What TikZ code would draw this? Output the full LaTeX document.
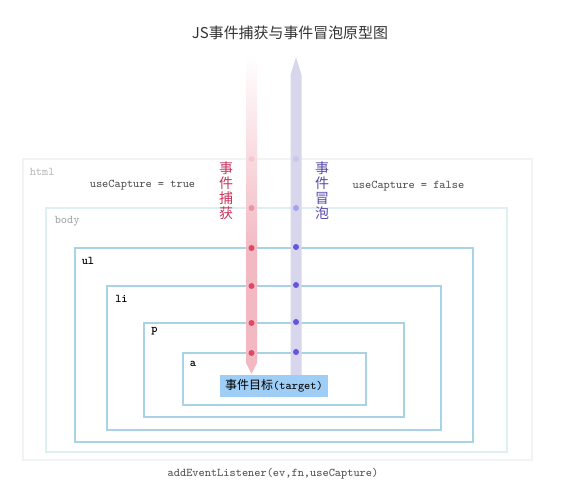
\documentclass[tikz,border=0pt]{standalone}
\usepackage{fontspec}
\newfontfamily\cjk{Noto Sans CJK SC}

\begin{document}
\begin{tikzpicture}[x=0.75pt,y=0.75pt,yscale=-1,xscale=1,
    boxline/.style={line width=1.5pt,color={rgb, 255:red, 169; green, 210; blue, 228 }},
    monotext/.style={font=\ttfamily\fontsize{8.85}{10}\selectfont,color={rgb, 255:red, 80; green, 80; blue, 80 }},
    tagtext/.style={font=\ttfamily\fontsize{8.85}{10}\selectfont,anchor=west,inner sep=0pt}]
                              \path (0,0) rectangle (572,499); %set diagram size 572 x 499

                              %Shape: Rectangle (html)
                              \draw  [line width=1.5pt,color={rgb, 255:red, 240; green, 244; blue, 244 }] (23,159) -- (532,159) -- (532,460) -- (23,460) -- cycle ;
                              %Shape: Rectangle (body)
                              \draw  [line width=1.5pt,color={rgb, 255:red, 222; green, 240; blue, 244 }] (46,208) -- (507,208) -- (507,452) -- (46,452) -- cycle ;
                              %Shape: Rectangle (ul)
                              \draw  [boxline] (75,248) -- (473,248) -- (473,442) -- (75,442) -- cycle ;
                              %Shape: Rectangle (li)
                              \draw  [boxline] (107,286) -- (441,286) -- (441,430) -- (107,430) -- cycle ;
                              %Shape: Rectangle (p)
                              \draw  [boxline] (144,323) -- (404,323) -- (404,417) -- (144,417) -- cycle ;
                              %Shape: Rectangle (a)
                              \draw  [boxline] (183,353) -- (366,353) -- (366,405) -- (183,405) -- cycle ;

                              %Shape: Capture bar
                              \shade [top color=white, bottom color={rgb, 255:red, 243; green, 185; blue, 195 }] (246,55) -- (257,55) -- (257,250) -- (246,250) -- cycle ;
                              \fill  [color={rgb, 255:red, 243; green, 185; blue, 195 }] (246,249.5) -- (257,249.5) -- (257,363) -- (251.5,374) -- (246,363) -- cycle ;
                              %Shape: Bubble bar
                              \fill  [color={rgb, 255:red, 216; green, 214; blue, 236 }] (296,57) -- (301.5,75) -- (301.5,376) -- (290.5,376) -- (290.5,75) -- cycle ;

                              %Shape: Capture dots
                              \fill  [color={rgb, 255:red, 224; green, 72; blue, 100 }, opacity=0.12] (251.5,159) circle [radius=3] ;
                              \fill  [color={rgb, 255:red, 224; green, 72; blue, 100 }, opacity=0.4] (251.5,208) circle [radius=3] ;
                              \foreach \y in {248,286,323,353}
                                 \fill  [color={rgb, 255:red, 224; green, 72; blue, 100 }] (251.5,\y) circle [radius=3] ;
                              %Shape: Bubble dots
                              \fill  [color={rgb, 255:red, 100; green, 84; blue, 224 }, opacity=0.12] (296,159) circle [radius=3] ;
                              \fill  [color={rgb, 255:red, 100; green, 84; blue, 224 }, opacity=0.4] (296,208) circle [radius=3] ;
                              \foreach \y in {247,285,322,352}
                                 \fill  [color={rgb, 255:red, 100; green, 84; blue, 224 }] (296,\y) circle [radius=3] ;

                              % Text Node
                              \draw (290,33) node (title) [font=\cjk\fontsize{11.2}{13}\selectfont, color={rgb, 255:red, 51; green, 51; blue, 51 }] {JS事件捕获与事件冒泡原型图};
                              % Text Node
                              \draw (226,191) node (capturelbl) [align=center, font=\cjk\fontsize{10.5}{11.2}\selectfont, color={rgb, 255:red, 200; green, 50; blue, 90 }] {事\\件\\捕\\获};
                              % Text Node
                              \draw (322,191) node (bubblelbl) [align=center, font=\cjk\fontsize{10.5}{11.2}\selectfont, color={rgb, 255:red, 90; green, 72; blue, 168 }] {事\\件\\冒\\泡};
                              % Text Node
                              \draw (142.5,185) node (capturetrue) [monotext] {useCapture = true};
                              % Text Node
                              \draw (408.5,186) node (capturefalse) [monotext] {useCapture = false};
                              % Text Node
                              \draw (273,474) node (listener) [monotext] {addEventListener(ev,fn,useCapture)};
                              % Text Node
                              \draw (29.5,172) node (lblhtml) [tagtext, color={rgb, 255:red, 185; green, 185; blue, 185 }] {html};
                              % Text Node
                              \draw (54.5,221) node (lblbody) [tagtext, color={rgb, 255:red, 165; green, 165; blue, 165 }] {body};
                              % Text Node
                              \draw (81.5,261) node (lblul) [tagtext, font=\ttfamily\bfseries\fontsize{8.85}{10}\selectfont] {ul};
                              % Text Node
                              \draw (115,299) node (lblli) [tagtext, font=\ttfamily\bfseries\fontsize{8.85}{10}\selectfont] {li};
                              % Text Node
                              \draw (151,331) node (lblp) [tagtext, font=\ttfamily\bfseries\fontsize{8.85}{10}\selectfont] {p};
                              % Text Node
                              \draw (189.5,364) node (lbla) [tagtext, font=\ttfamily\bfseries\fontsize{8.85}{10}\selectfont] {a};
                              % Text Node
                              \draw (274,386) node (target) [fill={rgb, 255:red, 158; green, 205; blue, 245 }, minimum width=81pt, minimum height=16.5pt, inner sep=0pt] {{\cjk\fontsize{9}{11}\selectfont 事件目标}{\ttfamily\fontsize{8.85}{10}\selectfont (target)}};
                        \end{tikzpicture}
\end{document}
